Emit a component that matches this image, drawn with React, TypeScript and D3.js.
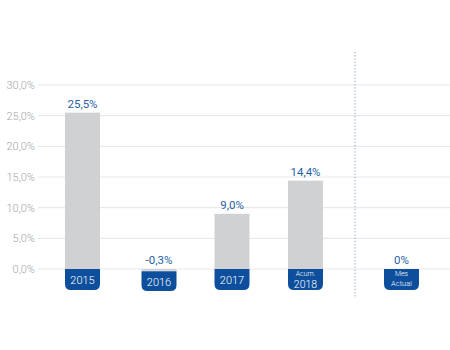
import React from "react";
import * as d3 from "d3";

const categories = ["2015", "2016", "2017", "2018", "Mes Actual"];
const topLabels = ["", "", "", "Acum.", "Mes"];
const bottomLabels = ["2015", "2016", "2017", "2018", "Actual"];
const values = [25.5, -0.3, 9.0, 14.4, 0];
const valueLabels = ["25,5%", "-0,3%", "9,0%", "14,4%", "0%"];
const yTicks = [0, 5, 10, 15, 20, 25, 30];

const W = 450;
const H = 350;
const BLUE = "#0d4f9c";
const LABEL_BLUE = "#1f5fa6";
const GRAY = "#d0d1d3";

function boxPath(x: number, y: number, w: number, h: number, r: number) {
  return `M${x},${y}H${x + w}V${y + h - r}Q${x + w},${y + h} ${x + w - r},${y + h}H${x + r}Q${x},${y + h} ${x},${y + h - r}Z`;
}

export default function App() {
  const y = d3.scaleLinear().domain([0, 30]).range([269, 85]);
  const x = d3.scaleOrdinal<string, number>().domain(categories).range([82.5, 159, 232, 305.5, 401.5]);
  const bw = 35;
  const font = "Roboto, 'Open Sans', sans-serif";
  const y0 = y(0);
  return (
    <svg width={W} height={H} style={{ position: "absolute", left: 0, top: 0, background: "#fff" }} fontFamily={font}>
      {yTicks.map((t) => (
        <g key={t}>
          <line x1={38} x2={W} y1={y(t)} y2={y(t)} stroke="#e9e9ea" strokeWidth={1.2} />
          <text x={35} y={y(t) + 4} textAnchor="end" fontSize={11} fill="#a4a6a9" fontWeight={300}>
            {d3.format(".1f")(t).replace(".", ",")}%
          </text>
        </g>
      ))}
      <line x1={355} x2={355} y1={52} y2={297} stroke="#8aa2c4" strokeWidth={1} strokeDasharray="1.2,2" />
      {categories.map((c, i) => {
        const v = values[i];
        const cx = x(c);
        const top = Math.min(y(v), y0);
        const bottom = Math.max(y(v), y0);
        const boxTop = v < 0 ? bottom + 0.5 : y0;
        return (
          <g key={c}>
            {bottom - top > 0 && <rect x={cx - bw / 2} y={top} width={bw} height={bottom - top} fill={GRAY} />}
            <path d={boxPath(cx - bw / 2, boxTop, bw, 290 - boxTop + (v < 0 ? 1 : 0), 6)} fill={BLUE} />
            {topLabels[i] ? (
              <>
                <text x={cx} y={boxTop + 7} textAnchor="middle" fontSize={7} fill="#fff" fontWeight={300}>{topLabels[i]}</text>
                <text x={cx} y={boxTop + (i === 4 ? 16.5 : 19)} textAnchor="middle" fontSize={i === 4 ? 7.5 : 10.5} fill="#fff" fontWeight={300}>{bottomLabels[i]}</text>
              </>
            ) : (
              <text x={cx} y={boxTop + 15} textAnchor="middle" fontSize={11} fill="#fff" fontWeight={300}>{bottomLabels[i]}</text>
            )}
            <text x={cx} y={top - 5} textAnchor="middle" fontSize={11.5} fill={LABEL_BLUE}>{valueLabels[i]}</text>
          </g>
        );
      })}
    </svg>
  );
}
